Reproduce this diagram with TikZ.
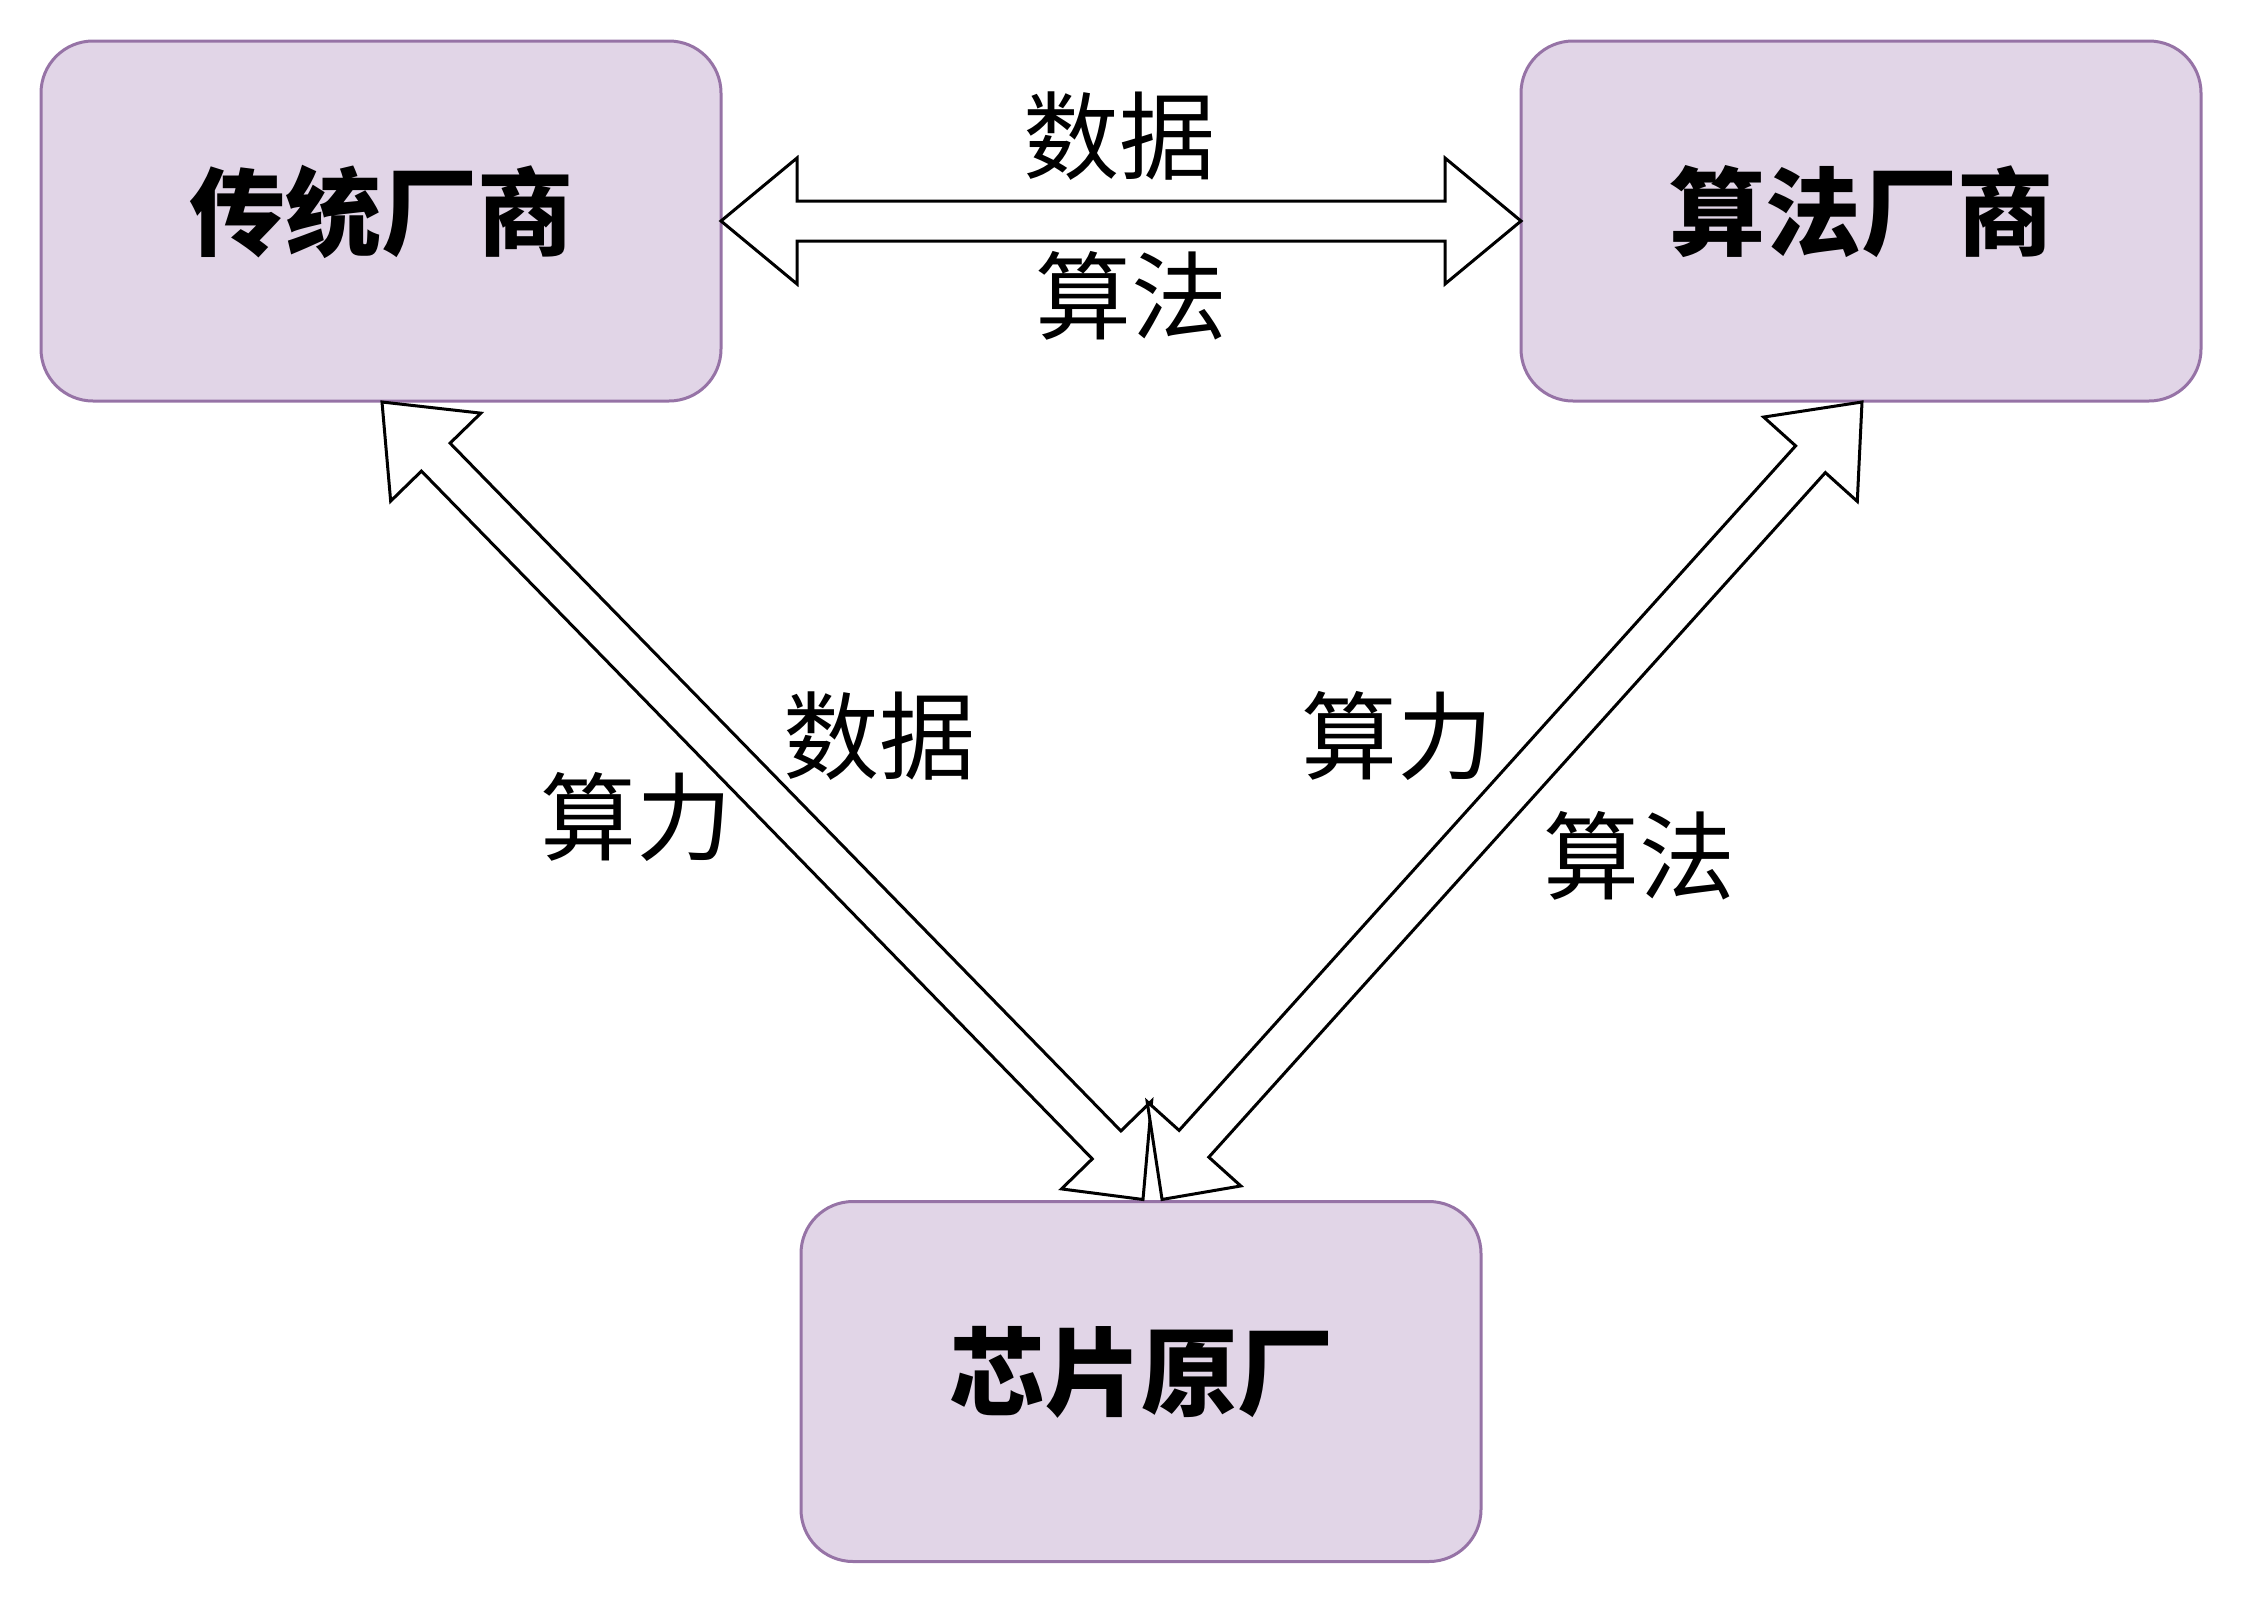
\documentclass[tikz,border=0pt]{standalone}
\usepackage{fontspec}
\newfontfamily\cjk{Noto Sans CJK SC}
\usetikzlibrary{calc}
\definecolor{boxfill}{HTML}{E1D5E7}
\definecolor{boxline}{HTML}{9673A6}
\tikzset{
  actor/.style={draw=boxline, fill=boxfill, line width=3pt, rounded corners=52pt,
    minimum width=680pt, minimum height=360pt, inner sep=0pt, outer sep=0pt,
    font=\cjk\bfseries\fontsize{96pt}{115pt}\selectfont},
  lbl/.style={inner sep=0pt, font=\cjk\fontsize{96pt}{115pt}\selectfont},
  flexarrow/.style={draw=black, fill=white, line width=3pt, line join=miter}
}
% #1: tip A (on the shaft axis); #2: end of the shaft axis at the other side;
% #3: tip B; #4, #5: head lengths at A and at #2
\newcommand\flexarrow[5]{%
  \draw[flexarrow] let \p1=(#1), \p2=(#2),
    \n1={veclen(\x2-\x1,\y2-\y1)}, \n2={atan2(\y2-\y1,\x2-\x1)} in
    [shift={(\p1)}, rotate=\n2]
    (0pt,0pt) -- (#4pt,63pt) -- (#4pt,20pt) -- (\n1-#5pt,20pt) -- (\n1-#5pt,63pt)
    -- (#3) -- (\n1-#5pt,-63pt) -- (\n1-#5pt,-20pt) -- (#4pt,-20pt)
    -- (#4pt,-63pt) -- cycle;
}
\newcommand\lift[1]{\raisebox{9pt}[\height][\depth]{#1}}
\begin{document}
\begin{tikzpicture}[x=1pt, y=-1pt]
  \useasboundingbox (0,0) rectangle (2244,1604);
  \node[actor] (trad) at (381,221) {\lift{传统厂商}};
  \node[actor] (algo) at (1861,221) {\lift{算法厂商}};
  \node[actor] (chip) at (1141,1381.5) {\lift{芯片原厂}};

  \coordinate (tTrad) at ($(trad.south)+(1,1)$);
  \coordinate (tAlgo) at ($(algo.south)+(1,1)$);
  \coordinate (vLeft) at ($(chip.north)+(12,-9)$);
  \coordinate (vRight) at ($(chip.north)+(10,-10)$);
  \coordinate (cLeft) at ($(chip.north)+(2,-2)$);
  \coordinate (cRight) at ($(chip.north)+(21,-2)$);

  \flexarrow{trad.east}{algo.west}{algo.west}{76}{76}
  \flexarrow{tTrad}{vLeft}{cLeft}{77}{66}
  \flexarrow{tAlgo}{vRight}{cRight}{77}{64}

  \node[lbl] (d1) at (1119,136) {数据};
  \node[lbl] (a1) at (1131,296) {算法};
  \node[lbl] (d2) at (879,736) {数据};
  \node[lbl] (p1) at (636,817) {算力};
  \node[lbl] (p2) at (1397,736) {算力};
  \node[lbl] (a2) at (1639,856) {算法};
\end{tikzpicture}
\end{document}
